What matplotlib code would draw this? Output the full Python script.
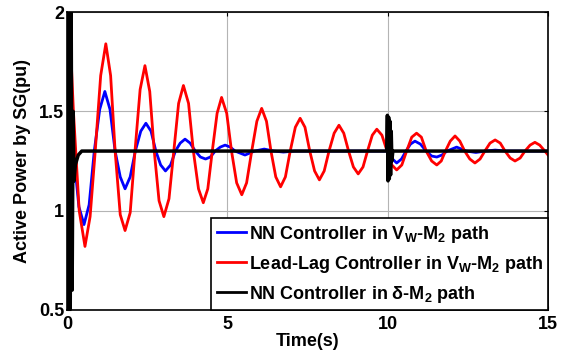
import matplotlib
matplotlib.use("Agg")
import matplotlib.pyplot as plt

plt.rcParams['font.family'] = ['Liberation Sans', 'DejaVu Sans']
plt.rcParams['font.weight'] = 'bold'
plt.rcParams['mathtext.fontset'] = 'custom'
plt.rcParams['mathtext.rm'] = 'Liberation Sans:bold'
plt.rcParams['mathtext.bf'] = 'Liberation Sans:bold'
plt.rcParams['mathtext.default'] = 'bf'

# NN controller in Vw-M2 path
t_nn = [0, 0.07, 0.2, 0.37, 0.53, 0.69, 0.85, 1.02, 1.18, 1.34, 1.5, 1.66, 1.81, 1.97,
        2.13, 2.3, 2.46, 2.62, 2.77, 2.92, 3.07, 3.23, 3.38, 3.53, 3.68, 3.84, 4.0,
        4.16, 4.32, 4.47, 4.62, 4.78, 4.93, 5.09, 5.24, 5.55, 5.85, 6.15, 6.45, 6.75,
        7.1, 9.98, 10.05, 10.15, 10.28, 10.43, 10.57, 10.71, 10.85, 11.02, 11.2, 11.37,
        11.53, 11.69, 11.85, 12.15, 12.45, 12.75, 13.05, 13.35, 13.7, 15]
p_nn = [1.3, 1.5, 1.3, 1.02, 0.93, 1.03, 1.3, 1.51, 1.60, 1.51, 1.3, 1.17, 1.11, 1.17,
        1.3, 1.40, 1.44, 1.40, 1.3, 1.23, 1.20, 1.23, 1.3, 1.34, 1.36, 1.34, 1.3,
        1.27, 1.26, 1.27, 1.3, 1.32, 1.33, 1.32, 1.3, 1.28, 1.3, 1.31, 1.3, 1.295,
        1.3, 1.3, 1.32, 1.26, 1.24, 1.26, 1.3, 1.335, 1.35, 1.335, 1.3, 1.275,
        1.27, 1.28, 1.3, 1.32, 1.3, 1.293, 1.3, 1.305, 1.3, 1.3]

# Lead-lag controller in Vw-M2 path
t_ll = [0, 0.07, 0.2, 0.38, 0.56, 0.72, 0.88, 1.05, 1.21, 1.36, 1.5, 1.66, 1.81, 1.97,
        2.12, 2.28, 2.43, 2.58, 2.72, 2.87, 3.02, 3.18, 3.33, 3.48, 3.63, 3.79, 3.94,
        4.1, 4.25, 4.39, 4.53, 4.68, 4.82, 4.98, 5.13, 5.29, 5.45, 5.6, 5.76, 5.92,
        6.07, 6.22, 6.36, 6.51, 6.66, 6.81, 6.96, 7.12, 7.27, 7.42, 7.57, 7.72, 7.87,
        8.02, 8.17, 8.33, 8.48, 8.63, 8.78, 8.93, 9.08, 9.23, 9.37, 9.52, 9.66, 9.82,
        9.98, 10.13, 10.28, 10.44, 10.59, 10.75, 10.9, 11.05, 11.2, 11.37, 11.53, 11.67,
        11.8, 11.95, 12.1, 12.25, 12.4, 12.56, 12.72, 12.88, 13.03, 13.19, 13.35, 13.51,
        13.66, 13.82, 13.97, 14.13, 14.28, 14.44, 14.59, 14.74, 14.9, 15.0]
p_ll = [1.3, 1.97, 1.5, 1.0, 0.82, 0.97, 1.3, 1.68, 1.84, 1.68, 1.3, 0.98, 0.90, 0.99,
        1.3, 1.61, 1.73, 1.60, 1.3, 1.05, 0.97, 1.06, 1.3, 1.54, 1.63, 1.54, 1.3,
        1.11, 1.04, 1.11, 1.3, 1.49, 1.57, 1.49, 1.3, 1.14, 1.08, 1.14, 1.3, 1.45,
        1.515, 1.45, 1.3, 1.17, 1.12, 1.17, 1.3, 1.42, 1.465, 1.42, 1.3, 1.2, 1.155,
        1.2, 1.3, 1.39, 1.43, 1.39, 1.3, 1.22, 1.185, 1.22, 1.3, 1.38, 1.41, 1.38,
        1.3, 1.23, 1.205, 1.23, 1.3, 1.37, 1.39, 1.37, 1.3, 1.25, 1.23, 1.25,
        1.3, 1.35, 1.376, 1.35, 1.3, 1.26, 1.24, 1.26, 1.3, 1.34, 1.356, 1.34,
        1.3, 1.265, 1.25, 1.265, 1.3, 1.33, 1.344, 1.33, 1.3, 1.28]

# NN controller in delta-M2 path
t_d = [0, 0.02, 0.04, 0.07, 0.1, 0.13, 0.16, 0.19, 0.22, 0.26, 0.35, 0.46,
       9.97, 9.99, 10.01, 10.03, 10.05, 10.07, 10.09, 10.11, 10.13, 10.16, 15]
p_d = [1.3, 2.1, 0.45, 2.1, 0.45, 2.0, 0.6, 1.5, 1.15, 1.23, 1.28, 1.3,
       1.3, 1.48, 1.15, 1.47, 1.16, 1.45, 1.18, 1.4, 1.25, 1.3, 1.3]

labels = [r'NN Controller in V$_{W}$-M$_{2}$ path',
          r'Lead-Lag Controller in V$_{W}$-M$_{2}$ path',
          r'NN Controller in δ-M$_{2}$ path']

fig = plt.figure(figsize=(5.65, 3.54), dpi=100)
ax = fig.add_axes([0.1186, 0.1243, 0.8514, 0.8418])

ax.plot(t_nn, p_nn, color='#0000ff', lw=2, label=labels[0])
ax.plot(t_ll, p_ll, color='#ff0000', lw=2, label=labels[1])
ax.plot(t_d, p_d, color='black', lw=2.5, label=labels[2])

ax.set_xlim(0, 15)
ax.set_ylim(0.5, 2)
ax.set_xticks([0, 5, 10, 15])
ax.set_yticks([0.5, 1, 1.5, 2])
ax.set_yticklabels(['0.5', '1', '1.5', '2'])
ax.grid(True, color='#b4b4b4', lw=0.8)
ax.set_axisbelow(True)
ax.tick_params(direction='in', top=True, right=True, labelsize=13, pad=2, length=3)
ax.tick_params(axis='x', pad=4)
for lbl in ax.get_xticklabels() + ax.get_yticklabels():
    lbl.set_fontweight('bold')
for s in ax.spines.values():
    s.set_linewidth(1.2)

ax.set_xlabel('Time(s)', fontsize=13, fontweight='bold', labelpad=0)
ax.set_ylabel('Active Power by SG(pu)', fontsize=13, fontweight='bold', labelpad=6)

leg = ax.legend(loc='lower right', borderaxespad=0, fontsize=13, handlelength=1.6,
                handletextpad=0.15, labelspacing=0.5, fancybox=False, framealpha=1,
                borderpad=0.3)
leg.get_frame().set_edgecolor('black')
leg.get_frame().set_linewidth(1.2)
for txt in leg.get_texts():
    txt.set_fontweight('bold')
for line in leg.get_lines():
    line.set_linewidth(2)

fig.savefig('out.png', dpi=100)
